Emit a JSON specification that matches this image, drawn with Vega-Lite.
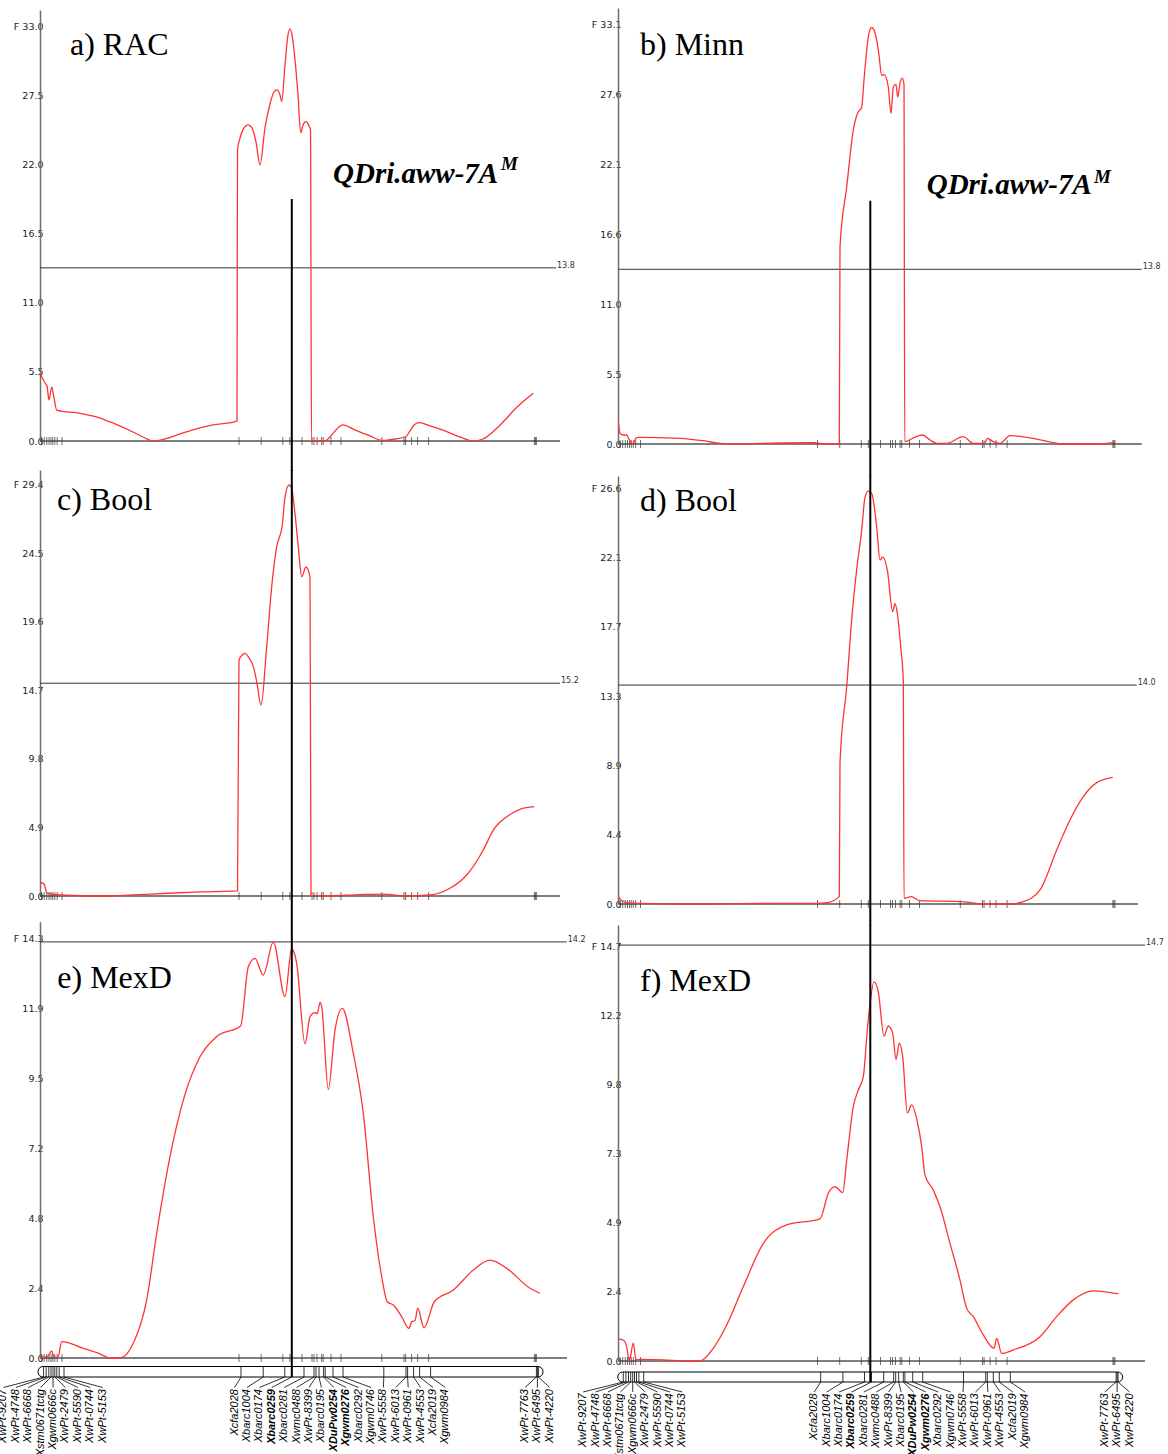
{
  "$schema": "https://vega.github.io/schema/vega-lite/v6.json",
  "width": 1168,
  "height": 1454,
  "autosize": {"type": "none"},
  "padding": 0,
  "background": "white",
  "config": {
    "view": {"stroke": null},
    "axis": {"ticks": false, "grid": false, "domainColor": "#6e6e6e", "domainWidth": 1.5, "labelFont": "DejaVu Sans", "labelFontSize": 9.5, "labelColor": "#222222", "labelPadding": -3, "labelOverlap": false, "labelFlush": false}
  },
  "datasets": {
    "panels": [
      {"panel": "a", "title": "a) RAC", "thr": 13.8},
      {"panel": "b", "title": "b) Minn", "thr": 13.8},
      {"panel": "c", "title": "c) Bool", "thr": 15.2},
      {"panel": "d", "title": "d) Bool", "thr": 14.0},
      {"panel": "e", "title": "e) MexD", "thr": 14.2},
      {"panel": "f", "title": "f) MexD", "thr": 14.7}
    ],
    "qtl": [{"name": "QDri.aww-7A", "sup": "M", "cM": 125.9}],
    "chromosome": [{"chromosome": "7A", "start": -2, "end": 250.5}],
    "markers": [
      {"marker": "XwPt-9207", "cM": 0.8, "block": 1},
      {"marker": "XwPt-4748", "cM": 2.1, "block": 1},
      {"marker": "XwPt-6668", "cM": 3.4, "block": 1},
      {"marker": "Xstm0671tctg", "cM": 4.5, "block": 1},
      {"marker": "Xgwm0666c", "cM": 5.5, "block": 1},
      {"marker": "XwPt-2479", "cM": 6.4, "block": 1},
      {"marker": "XwPt-5590", "cM": 7.4, "block": 1},
      {"marker": "XwPt-0744", "cM": 8.6, "block": 1},
      {"marker": "XwPt-5153", "cM": 11.0, "block": 1},
      {"marker": "Xcfa2028", "cM": 99.5, "block": 2},
      {"marker": "Xbarc1004", "cM": 110.6, "block": 2},
      {"marker": "Xbarc0174", "cM": 121.4, "block": 2},
      {"marker": "Xbarc0259", "cM": 124.9, "block": 2},
      {"marker": "Xbarc0281", "cM": 131.0, "block": 2},
      {"marker": "Xwmc0488", "cM": 136.0, "block": 2},
      {"marker": "XwPt-8399", "cM": 137.0, "block": 2},
      {"marker": "Xbarc0195", "cM": 138.5, "block": 2},
      {"marker": "XDuPw0254", "cM": 140.8, "block": 2},
      {"marker": "Xgwm0276", "cM": 141.6, "block": 2},
      {"marker": "Xbarc0292", "cM": 145.5, "block": 2},
      {"marker": "Xgwm0746", "cM": 150.5, "block": 2},
      {"marker": "XwPt-5558", "cM": 170.9, "block": 2},
      {"marker": "XwPt-6013", "cM": 182.0, "block": 2},
      {"marker": "XwPt-0961", "cM": 182.8, "block": 2},
      {"marker": "XwPt-4553", "cM": 185.8, "block": 2},
      {"marker": "Xcfa2019", "cM": 188.8, "block": 2},
      {"marker": "Xgwm0984", "cM": 194.3, "block": 2},
      {"marker": "XwPt-7763", "cM": 247.2, "block": 3},
      {"marker": "XwPt-6495", "cM": 247.7, "block": 3},
      {"marker": "XwPt-4220", "cM": 248.2, "block": 3}
    ],
    "curves": [
      {"panel":"a","cM":0,"F":5.4},{"panel":"a","cM":1.5,"F":4.94},{"panel":"a","cM":2.5,"F":4.62},{"panel":"a","cM":3.5,"F":4.38},{"panel":"a","cM":4.5,"F":3.27},{"panel":"a","cM":5.85,"F":4.3},{"panel":"a","cM":6.75,"F":3.67},{"panel":"a","cM":8.35,"F":2.47},{"panel":"a","cM":20,"F":2.2},{"panel":"a","cM":30,"F":1.83},{"panel":"a","cM":37.5,"F":1.36},{"panel":"a","cM":46.5,"F":0.72},{"panel":"a","cM":52.5,"F":0.24},{"panel":"a","cM":56.5,"F":0},{"panel":"a","cM":62.5,"F":0.16},{"panel":"a","cM":71.5,"F":0.64},{"panel":"a","cM":80,"F":1.04},{"panel":"a","cM":86.5,"F":1.28},{"panel":"a","cM":98.5,"F":1.59},{"panel":"a","cM":98.75,"F":23.2},{"panel":"a","cM":100,"F":24.15},{"panel":"a","cM":102,"F":24.95},{"panel":"a","cM":104,"F":25.19},{"panel":"a","cM":106,"F":24.95},{"panel":"a","cM":108,"F":23.83},{"panel":"a","cM":110,"F":22.0},{"panel":"a","cM":112.5,"F":24.95},{"panel":"a","cM":115,"F":26.86},{"panel":"a","cM":117,"F":27.82},{"panel":"a","cM":118.5,"F":27.98},{"panel":"a","cM":120,"F":27.58},{"panel":"a","cM":120.85,"F":27.05},{"panel":"a","cM":122.5,"F":29.97},{"panel":"a","cM":124,"F":32.36},{"panel":"a","cM":125,"F":32.84},{"panel":"a","cM":126,"F":32.36},{"panel":"a","cM":127.5,"F":30.37},{"panel":"a","cM":129,"F":27.58},{"panel":"a","cM":130.35,"F":24.58},{"panel":"a","cM":131.5,"F":25.19},{"panel":"a","cM":133,"F":25.45},{"panel":"a","cM":134.5,"F":25.11},{"panel":"a","cM":135.25,"F":24.79},{"panel":"a","cM":135.75,"F":0},{"panel":"a","cM":142.5,"F":0},{"panel":"a","cM":145,"F":0.32},{"panel":"a","cM":148,"F":0.88},{"panel":"a","cM":151.35,"F":1.28},{"panel":"a","cM":157.5,"F":0.88},{"panel":"a","cM":165,"F":0.4},{"panel":"a","cM":171.35,"F":0.04},{"panel":"a","cM":177.5,"F":0.16},{"panel":"a","cM":182.85,"F":0.34},{"panel":"a","cM":185,"F":0.8},{"panel":"a","cM":187,"F":1.28},{"panel":"a","cM":189.65,"F":1.46},{"panel":"a","cM":195,"F":1.2},{"panel":"a","cM":202.5,"F":0.8},{"panel":"a","cM":210,"F":0.32},{"panel":"a","cM":216.5,"F":0},{"panel":"a","cM":221.5,"F":0.16},{"panel":"a","cM":227.5,"F":0.88},{"panel":"a","cM":232.5,"F":1.67},{"panel":"a","cM":237.5,"F":2.55},{"panel":"a","cM":242.5,"F":3.27},{"panel":"a","cM":246.65,"F":3.8},
      {"panel":"b","cM":0,"F":1.66},{"panel":"b","cM":0.75,"F":0.85},{"panel":"b","cM":2.4,"F":0.71},{"panel":"b","cM":4.1,"F":0.71},{"panel":"b","cM":5.4,"F":0.32},{"panel":"b","cM":7.4,"F":0},{"panel":"b","cM":8.75,"F":0.47},{"panel":"b","cM":9.9,"F":0.53},{"panel":"b","cM":30.75,"F":0.45},{"panel":"b","cM":43.25,"F":0.24},{"panel":"b","cM":50.75,"F":0.05},{"panel":"b","cM":59.1,"F":0},{"panel":"b","cM":80.75,"F":0.08},{"panel":"b","cM":97.4,"F":0.1},{"panel":"b","cM":104.1,"F":0},{"panel":"b","cM":110.4,"F":0},{"panel":"b","cM":110.75,"F":15.58},{"panel":"b","cM":114.1,"F":20.3},{"panel":"b","cM":117.4,"F":24.8},{"panel":"b","cM":119.75,"F":26.2},{"panel":"b","cM":121.6,"F":26.6},{"panel":"b","cM":122.75,"F":28.75},{"panel":"b","cM":124.1,"F":31.1},{"panel":"b","cM":125.25,"F":32.46},{"panel":"b","cM":126.6,"F":32.9},{"panel":"b","cM":127.75,"F":32.7},{"panel":"b","cM":129.1,"F":31.9},{"panel":"b","cM":130.25,"F":30.7},{"panel":"b","cM":131.6,"F":29.1},{"panel":"b","cM":132.75,"F":29.2},{"panel":"b","cM":134.9,"F":28.2},{"panel":"b","cM":136.25,"F":26.1},{"panel":"b","cM":137.4,"F":28.2},{"panel":"b","cM":138.75,"F":28.4},{"panel":"b","cM":139.6,"F":27.4},{"panel":"b","cM":140.75,"F":28.5},{"panel":"b","cM":141.9,"F":28.9},{"panel":"b","cM":142.75,"F":28.4},{"panel":"b","cM":143.1,"F":0.18},{"panel":"b","cM":148.25,"F":0.55},{"panel":"b","cM":152.1,"F":0.71},{"panel":"b","cM":155.75,"F":0.32},{"panel":"b","cM":159.1,"F":0.05},{"panel":"b","cM":164.1,"F":0.05},{"panel":"b","cM":172.4,"F":0.58},{"panel":"b","cM":177.4,"F":0.05},{"panel":"b","cM":183.25,"F":0.05},{"panel":"b","cM":184.4,"F":0.45},{"panel":"b","cM":187.4,"F":0.18},{"panel":"b","cM":190.75,"F":0.05},{"panel":"b","cM":195.75,"F":0.66},{"panel":"b","cM":207.4,"F":0.45},{"panel":"b","cM":222.4,"F":0},{"panel":"b","cM":239.1,"F":0},{"panel":"b","cM":248.25,"F":0.13},
      {"panel":"c","cM":0,"F":1.0},{"panel":"c","cM":2,"F":0.86},{"panel":"c","cM":3.5,"F":0.21},{"panel":"c","cM":10,"F":0.07},{"panel":"c","cM":30,"F":0},{"panel":"c","cM":55,"F":0.14},{"panel":"c","cM":80,"F":0.29},{"panel":"c","cM":98.75,"F":0.36},{"panel":"c","cM":99.5,"F":16.86},{"panel":"c","cM":101,"F":17.2},{"panel":"c","cM":102.5,"F":17.33},{"panel":"c","cM":104.5,"F":17.0},{"panel":"c","cM":106.65,"F":16.4},{"panel":"c","cM":108.5,"F":15.2},{"panel":"c","cM":110.5,"F":13.64},{"panel":"c","cM":113.35,"F":17.8},{"panel":"c","cM":115.85,"F":22.1},{"panel":"c","cM":118.35,"F":24.95},{"panel":"c","cM":121.15,"F":26.5},{"panel":"c","cM":122.5,"F":28.5},{"panel":"c","cM":124.5,"F":29.36},{"panel":"c","cM":125.85,"F":29.1},{"panel":"c","cM":127.5,"F":27.3},{"panel":"c","cM":129.15,"F":24.95},{"panel":"c","cM":130.85,"F":22.8},{"panel":"c","cM":133,"F":23.5},{"panel":"c","cM":135,"F":22.8},{"panel":"c","cM":135.5,"F":0.07},{"panel":"c","cM":143.35,"F":0},{"panel":"c","cM":160,"F":0.1},{"panel":"c","cM":171.65,"F":0.14},{"panel":"c","cM":183.35,"F":0},{"panel":"c","cM":195,"F":0.07},{"panel":"c","cM":205,"F":0.55},{"panel":"c","cM":213.35,"F":1.5},{"panel":"c","cM":221.65,"F":3.29},{"panel":"c","cM":226.65,"F":4.71},{"panel":"c","cM":233.35,"F":5.66},{"panel":"c","cM":240,"F":6.19},{"panel":"c","cM":247.15,"F":6.38},
      {"panel":"d","cM":0,"F":0.45},{"panel":"d","cM":1.75,"F":0.19},{"panel":"d","cM":5.75,"F":0.06},{"panel":"d","cM":40,"F":0},{"panel":"d","cM":80.75,"F":0.04},{"panel":"d","cM":99.1,"F":0.04},{"panel":"d","cM":104.1,"F":0.08},{"panel":"d","cM":110.4,"F":0.47},{"panel":"d","cM":110.75,"F":9.0},{"panel":"d","cM":114.1,"F":13.9},{"panel":"d","cM":116.6,"F":18.2},{"panel":"d","cM":119.1,"F":21.4},{"panel":"d","cM":121.6,"F":23.9},{"panel":"d","cM":123.25,"F":26.0},{"panel":"d","cM":124.9,"F":26.4},{"panel":"d","cM":126.6,"F":26.26},{"panel":"d","cM":129.1,"F":24.1},{"panel":"d","cM":130.75,"F":22.0},{"panel":"d","cM":132.1,"F":22.2},{"panel":"d","cM":134.4,"F":21.36},{"panel":"d","cM":137.1,"F":18.7},{"panel":"d","cM":138.25,"F":19.2},{"panel":"d","cM":139.4,"F":18.6},{"panel":"d","cM":141.1,"F":16.45},{"panel":"d","cM":142.4,"F":14.3},{"panel":"d","cM":142.75,"F":0.36},{"panel":"d","cM":146.25,"F":0.47},{"panel":"d","cM":150.75,"F":0.21},{"panel":"d","cM":171.6,"F":0.15},{"panel":"d","cM":183.25,"F":0},{"panel":"d","cM":195.75,"F":0},{"panel":"d","cM":202.4,"F":0.15},{"panel":"d","cM":210.75,"F":0.9},{"panel":"d","cM":219.1,"F":3.45},{"panel":"d","cM":225.75,"F":5.37},{"panel":"d","cM":232.4,"F":6.86},{"panel":"d","cM":239.1,"F":7.76},{"panel":"d","cM":247.1,"F":8.1},
      {"panel":"e","cM":0,"F":0},{"panel":"e","cM":4,"F":0.07},{"panel":"e","cM":5.85,"F":0.24},{"panel":"e","cM":7,"F":0.03},{"panel":"e","cM":9,"F":0.03},{"panel":"e","cM":10.85,"F":0.56},{"panel":"e","cM":21.65,"F":0.33},{"panel":"e","cM":30,"F":0.14},{"panel":"e","cM":35,"F":0},{"panel":"e","cM":40,"F":0},{"panel":"e","cM":46.65,"F":0.5},{"panel":"e","cM":53.35,"F":1.98},{"panel":"e","cM":58.35,"F":4.26},{"panel":"e","cM":65,"F":6.87},{"panel":"e","cM":71.65,"F":8.8},{"panel":"e","cM":80,"F":10.28},{"panel":"e","cM":88.35,"F":10.97},{"panel":"e","cM":100.35,"F":11.34},{"panel":"e","cM":104.15,"F":13.35},{"panel":"e","cM":107.5,"F":13.64},{"panel":"e","cM":111.65,"F":13.07},{"panel":"e","cM":116.65,"F":14.19},{"panel":"e","cM":122.5,"F":12.33},{"panel":"e","cM":125.85,"F":13.98},{"panel":"e","cM":126.15,"F":13.96},{"panel":"e","cM":128.35,"F":13.47},{"panel":"e","cM":132.5,"F":10.72},{"panel":"e","cM":135,"F":11.65},{"panel":"e","cM":137.5,"F":11.79},{"panel":"e","cM":138.65,"F":11.75},{"panel":"e","cM":140,"F":12.14},{"panel":"e","cM":140.85,"F":11.99},{"panel":"e","cM":144.15,"F":9.17},{"panel":"e","cM":147.5,"F":11.19},{"panel":"e","cM":151.15,"F":11.93},{"panel":"e","cM":156.65,"F":10.4},{"panel":"e","cM":161.65,"F":8.35},{"panel":"e","cM":166.65,"F":4.82},{"panel":"e","cM":170.85,"F":2.77},{"panel":"e","cM":173.65,"F":1.92},{"panel":"e","cM":176.65,"F":1.81},{"panel":"e","cM":180.85,"F":1.41},{"panel":"e","cM":184.5,"F":1.01},{"panel":"e","cM":185.85,"F":1.24},{"panel":"e","cM":187.5,"F":1.27},{"panel":"e","cM":188.85,"F":1.7},{"panel":"e","cM":192,"F":1.03},{"panel":"e","cM":197.15,"F":1.92},{"panel":"e","cM":206.65,"F":2.32},{"panel":"e","cM":216.65,"F":3.0},{"panel":"e","cM":225,"F":3.34},{"panel":"e","cM":233.35,"F":3.06},{"panel":"e","cM":245,"F":2.38},{"panel":"e","cM":250,"F":2.21},
      {"panel":"f","cM":0,"F":0.77},{"panel":"f","cM":2.4,"F":0.74},{"panel":"f","cM":4.1,"F":0.5},{"panel":"f","cM":5.4,"F":0},{"panel":"f","cM":7.4,"F":0.63},{"panel":"f","cM":8.75,"F":0.04},{"panel":"f","cM":10.75,"F":0.06},{"panel":"f","cM":22.4,"F":0.04},{"panel":"f","cM":34.1,"F":0},{"panel":"f","cM":40.75,"F":0},{"panel":"f","cM":47.4,"F":0.45},{"panel":"f","cM":54.1,"F":1.27},{"panel":"f","cM":62.4,"F":2.63},{"panel":"f","cM":72.4,"F":4.16},{"panel":"f","cM":84.1,"F":4.81},{"panel":"f","cM":100.75,"F":5.02},{"panel":"f","cM":104.9,"F":5.93},{"panel":"f","cM":108.25,"F":6.16},{"panel":"f","cM":112.1,"F":5.95},{"panel":"f","cM":114.1,"F":7.1},{"panel":"f","cM":117.4,"F":8.99},{"panel":"f","cM":119.9,"F":9.58},{"panel":"f","cM":122.4,"F":10.05},{"panel":"f","cM":124.4,"F":11.7},{"panel":"f","cM":125.4,"F":12.4},{"panel":"f","cM":127.75,"F":13.4},{"panel":"f","cM":129.9,"F":13.05},{"panel":"f","cM":132.75,"F":11.48},{"panel":"f","cM":134.9,"F":11.84},{"panel":"f","cM":137.1,"F":11.58},{"panel":"f","cM":138.75,"F":10.66},{"panel":"f","cM":140.4,"F":11.23},{"panel":"f","cM":142.1,"F":10.75},{"panel":"f","cM":144.4,"F":8.77},{"panel":"f","cM":146.6,"F":9.05},{"panel":"f","cM":149.4,"F":8.46},{"panel":"f","cM":151.6,"F":7.57},{"panel":"f","cM":153.25,"F":6.57},{"panel":"f","cM":157.4,"F":6.04},{"panel":"f","cM":160.75,"F":5.45},{"panel":"f","cM":165.75,"F":4.16},{"panel":"f","cM":170.75,"F":2.86},{"panel":"f","cM":174.1,"F":1.86},{"panel":"f","cM":177.4,"F":1.57},{"panel":"f","cM":182.4,"F":0.92},{"panel":"f","cM":187.75,"F":0.45},{"panel":"f","cM":189.1,"F":0.8},{"panel":"f","cM":191.6,"F":0.27},{"panel":"f","cM":197.4,"F":0.39},{"panel":"f","cM":210.75,"F":0.86},{"panel":"f","cM":219.1,"F":1.57},{"panel":"f","cM":227.4,"F":2.16},{"panel":"f","cM":237.4,"F":2.48},{"panel":"f","cM":249.9,"F":2.37}
    ]
  },
  "resolve": {"scale": {"x": "independent", "y": "independent"}, "axis": {"x": "independent", "y": "independent"}},
  "layer": [
    {
      "layer": [
        {"data": {"name": "chromosome"}, "mark": {"type": "rect", "fill": "white", "stroke": "black", "strokeWidth": 1, "cornerRadius": 5},
         "encoding": {"x": {"field": "start", "type": "quantitative", "scale": {"domain": [0, 262], "range": [42, 566], "nice": false, "zero": false}, "axis": null}, "x2": {"field": "end"},
                      "y": {"datum": 0, "type": "quantitative", "scale": {"domain": [0, 1], "range": [1366.5, 1377], "nice": false, "zero": false}, "axis": null}, "y2": {"datum": 1}}},
        {"data": {"name": "markers"},
         "transform": [
           {"joinaggregate": [{"op": "mean", "field": "cM", "as": "mu"}, {"op": "count", "as": "n"}], "groupby": ["block"]},
           {"window": [{"op": "row_number", "as": "r"}], "groupby": ["block"], "sort": [{"field": "cM"}]},
           {"calculate": "datum.mu + (datum.r - (datum.n + 1) / 2) * 6.2", "as": "labelPos"}
         ],
         "layer": [
           {"mark": {"type": "rule", "color": "black", "strokeWidth": 0.8},
            "encoding": {"x": {"field": "cM", "type": "quantitative", "scale": {"domain": [0, 262], "range": [42, 566], "nice": false, "zero": false}, "axis": null},
                         "y": {"datum": 0, "type": "quantitative", "scale": {"domain": [0, 1], "range": [1366.5, 1377], "nice": false, "zero": false}, "axis": null}, "y2": {"datum": 1}}},
           {"mark": {"type": "rule", "color": "black", "strokeWidth": 0.8},
            "encoding": {"x": {"field": "cM", "type": "quantitative", "scale": {"domain": [0, 262], "range": [42, 566], "nice": false, "zero": false}, "axis": null}, "x2": {"field": "labelPos"},
                         "y": {"datum": 1, "type": "quantitative", "scale": {"domain": [0, 1], "range": [1366.5, 1377], "nice": false, "zero": false}, "axis": null}, "y2": {"datum": 2}}},
           {"transform": [{"filter": {"not": {"field": "marker", "oneOf": ["Xbarc0259", "XDuPw0254", "Xgwm0276"]}}}],
            "mark": {"type": "text", "angle": 270, "align": "right", "baseline": "middle", "font": "Liberation Sans", "fontStyle": "italic", "fontSize": 11, "color": "black"},
            "encoding": {"x": {"field": "labelPos", "type": "quantitative", "scale": {"domain": [0, 262], "range": [42, 566], "nice": false, "zero": false}, "axis": null},
                         "y": {"datum": 2.15, "type": "quantitative", "scale": {"domain": [0, 1], "range": [1366.5, 1377], "nice": false, "zero": false}, "axis": null}, "text": {"field": "marker"}}},
           {"transform": [{"filter": {"field": "marker", "oneOf": ["Xbarc0259", "XDuPw0254", "Xgwm0276"]}}],
            "mark": {"type": "text", "angle": 270, "align": "right", "baseline": "middle", "font": "Liberation Sans", "fontStyle": "italic", "fontWeight": "bold", "fontSize": 11, "color": "black"},
            "encoding": {"x": {"field": "labelPos", "type": "quantitative", "scale": {"domain": [0, 262], "range": [42, 566], "nice": false, "zero": false}, "axis": null},
                         "y": {"datum": 2.15, "type": "quantitative", "scale": {"domain": [0, 1], "range": [1366.5, 1377], "nice": false, "zero": false}, "axis": null}, "text": {"field": "marker"}}}
         ]}
      ]
    },
    {
      "layer": [
        {"data": {"name": "chromosome"}, "mark": {"type": "rect", "fill": "white", "stroke": "black", "strokeWidth": 1, "cornerRadius": 5},
         "encoding": {"x": {"field": "start", "type": "quantitative", "scale": {"domain": [0, 262], "range": [621.7, 1145.7], "nice": false, "zero": false}, "axis": null}, "x2": {"field": "end"},
                      "y": {"datum": 0, "type": "quantitative", "scale": {"domain": [0, 1], "range": [1372, 1382], "nice": false, "zero": false}, "axis": null}, "y2": {"datum": 1}}},
        {"data": {"name": "markers"},
         "transform": [
           {"joinaggregate": [{"op": "mean", "field": "cM", "as": "mu"}, {"op": "count", "as": "n"}], "groupby": ["block"]},
           {"window": [{"op": "row_number", "as": "r"}], "groupby": ["block"], "sort": [{"field": "cM"}]},
           {"calculate": "datum.mu + (datum.r - (datum.n + 1) / 2) * 6.2", "as": "labelPos"}
         ],
         "layer": [
           {"mark": {"type": "rule", "color": "black", "strokeWidth": 0.8},
            "encoding": {"x": {"field": "cM", "type": "quantitative", "scale": {"domain": [0, 262], "range": [621.7, 1145.7], "nice": false, "zero": false}, "axis": null},
                         "y": {"datum": 0, "type": "quantitative", "scale": {"domain": [0, 1], "range": [1372, 1382], "nice": false, "zero": false}, "axis": null}, "y2": {"datum": 1}}},
           {"mark": {"type": "rule", "color": "black", "strokeWidth": 0.8},
            "encoding": {"x": {"field": "cM", "type": "quantitative", "scale": {"domain": [0, 262], "range": [621.7, 1145.7], "nice": false, "zero": false}, "axis": null}, "x2": {"field": "labelPos"},
                         "y": {"datum": 1, "type": "quantitative", "scale": {"domain": [0, 1], "range": [1372, 1382], "nice": false, "zero": false}, "axis": null}, "y2": {"datum": 2}}},
           {"transform": [{"filter": {"not": {"field": "marker", "oneOf": ["Xbarc0259", "XDuPw0254", "Xgwm0276"]}}}],
            "mark": {"type": "text", "angle": 270, "align": "right", "baseline": "middle", "font": "Liberation Sans", "fontStyle": "italic", "fontSize": 11, "color": "black"},
            "encoding": {"x": {"field": "labelPos", "type": "quantitative", "scale": {"domain": [0, 262], "range": [621.7, 1145.7], "nice": false, "zero": false}, "axis": null},
                         "y": {"datum": 2.15, "type": "quantitative", "scale": {"domain": [0, 1], "range": [1372, 1382], "nice": false, "zero": false}, "axis": null}, "text": {"field": "marker"}}},
           {"transform": [{"filter": {"field": "marker", "oneOf": ["Xbarc0259", "XDuPw0254", "Xgwm0276"]}}],
            "mark": {"type": "text", "angle": 270, "align": "right", "baseline": "middle", "font": "Liberation Sans", "fontStyle": "italic", "fontWeight": "bold", "fontSize": 11, "color": "black"},
            "encoding": {"x": {"field": "labelPos", "type": "quantitative", "scale": {"domain": [0, 262], "range": [621.7, 1145.7], "nice": false, "zero": false}, "axis": null},
                         "y": {"datum": 2.15, "type": "quantitative", "scale": {"domain": [0, 1], "range": [1372, 1382], "nice": false, "zero": false}, "axis": null}, "text": {"field": "marker"}}}
         ]}
      ]
    },
    {
      "layer": [
        {"data": {"name": "panels"}, "transform": [{"filter": "datum.panel == 'a'"}],
         "layer": [
           {"mark": {"type": "rule", "color": "#333333", "strokeWidth": 1},
            "encoding": {"x": {"datum": 0, "type": "quantitative", "scale": {"domain": [0, 262], "range": [40, 564], "nice": false, "zero": false}, "axis": null}, "x2": {"datum": 258},
                         "y": {"field": "thr", "type": "quantitative", "scale": {"domain": [0, 34.35], "range": [441, 10], "nice": false, "zero": false}}}},
           {"mark": {"type": "text", "align": "left", "baseline": "middle", "dx": 1, "dy": -2, "font": "DejaVu Sans", "fontSize": 8, "color": "#333333"},
            "encoding": {"x": {"datum": 258, "type": "quantitative", "scale": {"domain": [0, 262], "range": [40, 564], "nice": false, "zero": false}, "axis": null},
                         "y": {"field": "thr", "type": "quantitative", "scale": {"domain": [0, 34.35], "range": [441, 10], "nice": false, "zero": false}},
                         "text": {"field": "thr", "type": "quantitative", "format": ".1f"}}},
           {"mark": {"type": "rule", "color": "#555555", "strokeWidth": 1.5},
            "encoding": {"x": {"datum": 0, "type": "quantitative", "scale": {"domain": [0, 262], "range": [40, 564], "nice": false, "zero": false}, "axis": null}, "x2": {"datum": 260},
                         "y": {"datum": 0, "type": "quantitative", "scale": {"domain": [0, 34.35], "range": [441, 10], "nice": false, "zero": false}}}},
           {"mark": {"type": "text", "align": "left", "baseline": "alphabetic", "font": "Liberation Serif", "fontSize": 32, "color": "black"},
            "encoding": {"x": {"datum": 15, "type": "quantitative", "scale": {"domain": [0, 262], "range": [40, 564], "nice": false, "zero": false}, "axis": null},
                         "y": {"datum": 30.77, "type": "quantitative", "scale": {"domain": [0, 34.35], "range": [441, 10], "nice": false, "zero": false}},
                         "text": {"field": "title"}}}
         ]},
        {"data": {"name": "markers"}, "mark": {"type": "tick", "orient": "vertical", "color": "#333333", "size": 8, "thickness": 1},
         "encoding": {"x": {"field": "cM", "type": "quantitative", "scale": {"domain": [0, 262], "range": [40, 564], "nice": false, "zero": false}, "axis": null},
                      "y": {"datum": 0, "type": "quantitative", "scale": {"domain": [0, 34.35], "range": [441, 10], "nice": false, "zero": false}}}},
        {"data": {"name": "curves"}, "transform": [{"filter": "datum.panel == 'a'"}],
         "mark": {"type": "line", "color": "#ff3333", "strokeWidth": 1.3, "interpolate": "monotone"},
         "encoding": {"x": {"field": "cM", "type": "quantitative", "scale": {"domain": [0, 262], "range": [40, 564], "nice": false, "zero": false}, "axis": null},
                      "y": {"field": "F", "type": "quantitative", "scale": {"domain": [0, 34.35], "range": [441, 10], "nice": false, "zero": false},
                            "axis": {"orient": "left", "offset": -40, "title": null, "values": [0, 5.5, 11, 16.5, 22, 27.5, 33], "format": ".1f", "labelExpr": "datum.value > 32 ? 'F  ' + datum.label : datum.label"}}}},
        {"data": {"name": "qtl"},
         "layer": [
           {"mark": {"type": "rule", "color": "black", "strokeWidth": 2},
            "encoding": {"x": {"field": "cM", "type": "quantitative", "scale": {"domain": [0, 262], "range": [40, 564], "nice": false, "zero": false}, "axis": null},
                         "y": {"datum": 19.29, "type": "quantitative", "scale": {"domain": [0, 34.35], "range": [441, 10], "nice": false, "zero": false}}, "y2": {"datum": -2.4}}},
           {"mark": {"type": "text", "align": "left", "baseline": "alphabetic", "font": "Liberation Serif", "fontSize": 29, "fontStyle": "italic", "fontWeight": "bold", "color": "black"},
            "encoding": {"x": {"datum": 146.5, "type": "quantitative", "scale": {"domain": [0, 262], "range": [40, 564], "nice": false, "zero": false}, "axis": null},
                         "y": {"datum": 20.57, "type": "quantitative", "scale": {"domain": [0, 34.35], "range": [441, 10], "nice": false, "zero": false}}, "text": {"field": "name"}}},
           {"mark": {"type": "text", "align": "left", "baseline": "alphabetic", "font": "Liberation Serif", "fontSize": 19, "fontStyle": "italic", "fontWeight": "bold", "color": "black"},
            "encoding": {"x": {"datum": 230.5, "type": "quantitative", "scale": {"domain": [0, 262], "range": [40, 564], "nice": false, "zero": false}, "axis": null},
                         "y": {"datum": 21.6, "type": "quantitative", "scale": {"domain": [0, 34.35], "range": [441, 10], "nice": false, "zero": false}}, "text": {"field": "sup"}}}
         ]}
      ]
    },
    {
      "layer": [
        {"data": {"name": "panels"}, "transform": [{"filter": "datum.panel == 'b'"}],
         "layer": [
           {"mark": {"type": "rule", "color": "#333333", "strokeWidth": 1},
            "encoding": {"x": {"datum": 0, "type": "quantitative", "scale": {"domain": [0, 262], "range": [618.5, 1142.5], "nice": false, "zero": false}, "axis": null}, "x2": {"datum": 261.6},
                         "y": {"field": "thr", "type": "quantitative", "scale": {"domain": [0, 34.44], "range": [444, 8], "nice": false, "zero": false}}}},
           {"mark": {"type": "text", "align": "left", "baseline": "middle", "dx": 1, "dy": -2, "font": "DejaVu Sans", "fontSize": 8, "color": "#333333"},
            "encoding": {"x": {"datum": 261.6, "type": "quantitative", "scale": {"domain": [0, 262], "range": [618.5, 1142.5], "nice": false, "zero": false}, "axis": null},
                         "y": {"field": "thr", "type": "quantitative", "scale": {"domain": [0, 34.44], "range": [444, 8], "nice": false, "zero": false}},
                         "text": {"field": "thr", "type": "quantitative", "format": ".1f"}}},
           {"mark": {"type": "rule", "color": "#555555", "strokeWidth": 1.5},
            "encoding": {"x": {"datum": 0, "type": "quantitative", "scale": {"domain": [0, 262], "range": [618.5, 1142.5], "nice": false, "zero": false}, "axis": null}, "x2": {"datum": 261.6},
                         "y": {"datum": 0, "type": "quantitative", "scale": {"domain": [0, 34.44], "range": [444, 8], "nice": false, "zero": false}}}},
           {"mark": {"type": "text", "align": "left", "baseline": "alphabetic", "font": "Liberation Serif", "fontSize": 32, "color": "black"},
            "encoding": {"x": {"datum": 10.75, "type": "quantitative", "scale": {"domain": [0, 262], "range": [618.5, 1142.5], "nice": false, "zero": false}, "axis": null},
                         "y": {"datum": 30.73, "type": "quantitative", "scale": {"domain": [0, 34.44], "range": [444, 8], "nice": false, "zero": false}},
                         "text": {"field": "title"}}}
         ]},
        {"data": {"name": "markers"}, "mark": {"type": "tick", "orient": "vertical", "color": "#333333", "size": 8, "thickness": 1},
         "encoding": {"x": {"field": "cM", "type": "quantitative", "scale": {"domain": [0, 262], "range": [618.5, 1142.5], "nice": false, "zero": false}, "axis": null},
                      "y": {"datum": 0, "type": "quantitative", "scale": {"domain": [0, 34.44], "range": [444, 8], "nice": false, "zero": false}}}},
        {"data": {"name": "curves"}, "transform": [{"filter": "datum.panel == 'b'"}],
         "mark": {"type": "line", "color": "#ff3333", "strokeWidth": 1.3, "interpolate": "monotone"},
         "encoding": {"x": {"field": "cM", "type": "quantitative", "scale": {"domain": [0, 262], "range": [618.5, 1142.5], "nice": false, "zero": false}, "axis": null},
                      "y": {"field": "F", "type": "quantitative", "scale": {"domain": [0, 34.44], "range": [444, 8], "nice": false, "zero": false},
                            "axis": {"orient": "left", "offset": -618, "title": null, "values": [0, 5.52, 11.03, 16.56, 22.07, 27.58, 33.1], "format": ".1f", "labelExpr": "datum.value > 33 ? 'F  ' + datum.label : datum.label"}}}},
        {"data": {"name": "qtl"},
         "layer": [
           {"mark": {"type": "rule", "color": "black", "strokeWidth": 2},
            "encoding": {"x": {"field": "cM", "type": "quantitative", "scale": {"domain": [0, 262], "range": [618.5, 1142.5], "nice": false, "zero": false}, "axis": null},
                         "y": {"datum": 19.22, "type": "quantitative", "scale": {"domain": [0, 34.44], "range": [444, 8], "nice": false, "zero": false}}, "y2": {"datum": -2.57}}},
           {"mark": {"type": "text", "align": "left", "baseline": "alphabetic", "font": "Liberation Serif", "fontSize": 29, "fontStyle": "italic", "fontWeight": "bold", "color": "black"},
            "encoding": {"x": {"datum": 154.1, "type": "quantitative", "scale": {"domain": [0, 262], "range": [618.5, 1142.5], "nice": false, "zero": false}, "axis": null},
                         "y": {"datum": 19.75, "type": "quantitative", "scale": {"domain": [0, 34.44], "range": [444, 8], "nice": false, "zero": false}}, "text": {"field": "name"}}},
           {"mark": {"type": "text", "align": "left", "baseline": "alphabetic", "font": "Liberation Serif", "fontSize": 19, "fontStyle": "italic", "fontWeight": "bold", "color": "black"},
            "encoding": {"x": {"datum": 237.75, "type": "quantitative", "scale": {"domain": [0, 262], "range": [618.5, 1142.5], "nice": false, "zero": false}, "axis": null},
                         "y": {"datum": 20.6, "type": "quantitative", "scale": {"domain": [0, 34.44], "range": [444, 8], "nice": false, "zero": false}}, "text": {"field": "sup"}}}
         ]}
      ]
    },
    {
      "layer": [
        {"data": {"name": "panels"}, "transform": [{"filter": "datum.panel == 'c'"}],
         "layer": [
           {"mark": {"type": "rule", "color": "#333333", "strokeWidth": 1},
            "encoding": {"x": {"datum": 0, "type": "quantitative", "scale": {"domain": [0, 262], "range": [40, 564], "nice": false, "zero": false}, "axis": null}, "x2": {"datum": 260},
                         "y": {"field": "thr", "type": "quantitative", "scale": {"domain": [0, 30.43], "range": [896, 470], "nice": false, "zero": false}}}},
           {"mark": {"type": "text", "align": "left", "baseline": "middle", "dx": 1, "dy": -2, "font": "DejaVu Sans", "fontSize": 8, "color": "#333333"},
            "encoding": {"x": {"datum": 260, "type": "quantitative", "scale": {"domain": [0, 262], "range": [40, 564], "nice": false, "zero": false}, "axis": null},
                         "y": {"field": "thr", "type": "quantitative", "scale": {"domain": [0, 30.43], "range": [896, 470], "nice": false, "zero": false}},
                         "text": {"field": "thr", "type": "quantitative", "format": ".1f"}}},
           {"mark": {"type": "rule", "color": "#555555", "strokeWidth": 1.5},
            "encoding": {"x": {"datum": 0, "type": "quantitative", "scale": {"domain": [0, 262], "range": [40, 564], "nice": false, "zero": false}, "axis": null}, "x2": {"datum": 260},
                         "y": {"datum": 0, "type": "quantitative", "scale": {"domain": [0, 30.43], "range": [896, 470], "nice": false, "zero": false}}}},
           {"mark": {"type": "text", "align": "left", "baseline": "alphabetic", "font": "Liberation Serif", "fontSize": 32, "color": "black"},
            "encoding": {"x": {"datum": 8.5, "type": "quantitative", "scale": {"domain": [0, 262], "range": [40, 564], "nice": false, "zero": false}, "axis": null},
                         "y": {"datum": 27.57, "type": "quantitative", "scale": {"domain": [0, 30.43], "range": [896, 470], "nice": false, "zero": false}},
                         "text": {"field": "title"}}}
         ]},
        {"data": {"name": "markers"}, "mark": {"type": "tick", "orient": "vertical", "color": "#333333", "size": 8, "thickness": 1},
         "encoding": {"x": {"field": "cM", "type": "quantitative", "scale": {"domain": [0, 262], "range": [40, 564], "nice": false, "zero": false}, "axis": null},
                      "y": {"datum": 0, "type": "quantitative", "scale": {"domain": [0, 30.43], "range": [896, 470], "nice": false, "zero": false}}}},
        {"data": {"name": "curves"}, "transform": [{"filter": "datum.panel == 'c'"}],
         "mark": {"type": "line", "color": "#ff3333", "strokeWidth": 1.3, "interpolate": "monotone"},
         "encoding": {"x": {"field": "cM", "type": "quantitative", "scale": {"domain": [0, 262], "range": [40, 564], "nice": false, "zero": false}, "axis": null},
                      "y": {"field": "F", "type": "quantitative", "scale": {"domain": [0, 30.43], "range": [896, 470], "nice": false, "zero": false},
                            "axis": {"orient": "left", "offset": -40, "title": null, "values": [0, 4.9, 9.8, 14.7, 19.6, 24.5, 29.4], "format": ".1f", "labelExpr": "datum.value > 29 ? 'F  ' + datum.label : datum.label"}}}},
        {"data": {"name": "qtl"}, "mark": {"type": "rule", "color": "black", "strokeWidth": 2},
         "encoding": {"x": {"field": "cM", "type": "quantitative", "scale": {"domain": [0, 262], "range": [40, 564], "nice": false, "zero": false}, "axis": null},
                      "y": {"datum": 30.43, "type": "quantitative", "scale": {"domain": [0, 30.43], "range": [896, 470], "nice": false, "zero": false}}, "y2": {"datum": -1.86}}}
      ]
    },
    {
      "layer": [
        {"data": {"name": "panels"}, "transform": [{"filter": "datum.panel == 'd'"}],
         "layer": [
           {"mark": {"type": "rule", "color": "#333333", "strokeWidth": 1},
            "encoding": {"x": {"datum": 0, "type": "quantitative", "scale": {"domain": [0, 262], "range": [618.5, 1142.5], "nice": false, "zero": false}, "axis": null}, "x2": {"datum": 259.1},
                         "y": {"field": "thr", "type": "quantitative", "scale": {"domain": [0, 27.37], "range": [904, 476], "nice": false, "zero": false}}}},
           {"mark": {"type": "text", "align": "left", "baseline": "middle", "dx": 1, "dy": -2, "font": "DejaVu Sans", "fontSize": 8, "color": "#333333"},
            "encoding": {"x": {"datum": 259.1, "type": "quantitative", "scale": {"domain": [0, 262], "range": [618.5, 1142.5], "nice": false, "zero": false}, "axis": null},
                         "y": {"field": "thr", "type": "quantitative", "scale": {"domain": [0, 27.37], "range": [904, 476], "nice": false, "zero": false}},
                         "text": {"field": "thr", "type": "quantitative", "format": ".1f"}}},
           {"mark": {"type": "rule", "color": "#555555", "strokeWidth": 1.5},
            "encoding": {"x": {"datum": 0, "type": "quantitative", "scale": {"domain": [0, 262], "range": [618.5, 1142.5], "nice": false, "zero": false}, "axis": null}, "x2": {"datum": 259.75},
                         "y": {"datum": 0, "type": "quantitative", "scale": {"domain": [0, 27.37], "range": [904, 476], "nice": false, "zero": false}}}},
           {"mark": {"type": "text", "align": "left", "baseline": "alphabetic", "font": "Liberation Serif", "fontSize": 32, "color": "black"},
            "encoding": {"x": {"datum": 10.75, "type": "quantitative", "scale": {"domain": [0, 262], "range": [618.5, 1142.5], "nice": false, "zero": false}, "axis": null},
                         "y": {"datum": 25.13, "type": "quantitative", "scale": {"domain": [0, 27.37], "range": [904, 476], "nice": false, "zero": false}},
                         "text": {"field": "title"}}}
         ]},
        {"data": {"name": "markers"}, "mark": {"type": "tick", "orient": "vertical", "color": "#333333", "size": 8, "thickness": 1},
         "encoding": {"x": {"field": "cM", "type": "quantitative", "scale": {"domain": [0, 262], "range": [618.5, 1142.5], "nice": false, "zero": false}, "axis": null},
                      "y": {"datum": 0, "type": "quantitative", "scale": {"domain": [0, 27.37], "range": [904, 476], "nice": false, "zero": false}}}},
        {"data": {"name": "curves"}, "transform": [{"filter": "datum.panel == 'd'"}],
         "mark": {"type": "line", "color": "#ff3333", "strokeWidth": 1.3, "interpolate": "monotone"},
         "encoding": {"x": {"field": "cM", "type": "quantitative", "scale": {"domain": [0, 262], "range": [618.5, 1142.5], "nice": false, "zero": false}, "axis": null},
                      "y": {"field": "F", "type": "quantitative", "scale": {"domain": [0, 27.37], "range": [904, 476], "nice": false, "zero": false},
                            "axis": {"orient": "left", "offset": -618, "title": null, "values": [0, 4.43, 8.86, 13.29, 17.72, 22.14, 26.57], "format": ".1f", "labelExpr": "datum.value > 26 ? 'F  ' + datum.label : datum.label"}}}},
        {"data": {"name": "qtl"}, "mark": {"type": "rule", "color": "black", "strokeWidth": 2},
         "encoding": {"x": {"field": "cM", "type": "quantitative", "scale": {"domain": [0, 262], "range": [618.5, 1142.5], "nice": false, "zero": false}, "axis": null},
                      "y": {"datum": 27.37, "type": "quantitative", "scale": {"domain": [0, 27.37], "range": [904, 476], "nice": false, "zero": false}}, "y2": {"datum": -1.37}}}
      ]
    },
    {
      "layer": [
        {"data": {"name": "panels"}, "transform": [{"filter": "datum.panel == 'e'"}],
         "layer": [
           {"mark": {"type": "rule", "color": "#333333", "strokeWidth": 1},
            "encoding": {"x": {"datum": 0, "type": "quantitative", "scale": {"domain": [0, 262], "range": [40, 564], "nice": false, "zero": false}, "axis": null}, "x2": {"datum": 263.35},
                         "y": {"field": "thr", "type": "quantitative", "scale": {"domain": [0, 14.89], "range": [1358, 921.7], "nice": false, "zero": false}}}},
           {"mark": {"type": "text", "align": "left", "baseline": "middle", "dx": 1, "dy": -2, "font": "DejaVu Sans", "fontSize": 8, "color": "#333333"},
            "encoding": {"x": {"datum": 263.35, "type": "quantitative", "scale": {"domain": [0, 262], "range": [40, 564], "nice": false, "zero": false}, "axis": null},
                         "y": {"field": "thr", "type": "quantitative", "scale": {"domain": [0, 14.89], "range": [1358, 921.7], "nice": false, "zero": false}},
                         "text": {"field": "thr", "type": "quantitative", "format": ".1f"}}},
           {"mark": {"type": "rule", "color": "#555555", "strokeWidth": 1.5},
            "encoding": {"x": {"datum": 0, "type": "quantitative", "scale": {"domain": [0, 262], "range": [40, 564], "nice": false, "zero": false}, "axis": null}, "x2": {"datum": 263.5},
                         "y": {"datum": 0, "type": "quantitative", "scale": {"domain": [0, 14.89], "range": [1358, 921.7], "nice": false, "zero": false}}}},
           {"mark": {"type": "text", "align": "left", "baseline": "alphabetic", "font": "Liberation Serif", "fontSize": 32, "color": "black"},
            "encoding": {"x": {"datum": 8.65, "type": "quantitative", "scale": {"domain": [0, 262], "range": [40, 564], "nice": false, "zero": false}, "axis": null},
                         "y": {"datum": 12.62, "type": "quantitative", "scale": {"domain": [0, 14.89], "range": [1358, 921.7], "nice": false, "zero": false}},
                         "text": {"field": "title"}}}
         ]},
        {"data": {"name": "markers"}, "mark": {"type": "tick", "orient": "vertical", "color": "#333333", "size": 8, "thickness": 1},
         "encoding": {"x": {"field": "cM", "type": "quantitative", "scale": {"domain": [0, 262], "range": [40, 564], "nice": false, "zero": false}, "axis": null},
                      "y": {"datum": 0, "type": "quantitative", "scale": {"domain": [0, 14.89], "range": [1358, 921.7], "nice": false, "zero": false}}}},
        {"data": {"name": "curves"}, "transform": [{"filter": "datum.panel == 'e'"}],
         "mark": {"type": "line", "color": "#ff3333", "strokeWidth": 1.3, "interpolate": "monotone"},
         "encoding": {"x": {"field": "cM", "type": "quantitative", "scale": {"domain": [0, 262], "range": [40, 564], "nice": false, "zero": false}, "axis": null},
                      "y": {"field": "F", "type": "quantitative", "scale": {"domain": [0, 14.89], "range": [1358, 921.7], "nice": false, "zero": false},
                            "axis": {"orient": "left", "offset": -40, "title": null, "values": [0, 2.38, 4.77, 7.16, 9.53, 11.92, 14.3], "format": ".1f", "labelExpr": "datum.value > 14 ? 'F  ' + datum.label : datum.label"}}}},
        {"data": {"name": "qtl"}, "mark": {"type": "rule", "color": "black", "strokeWidth": 2},
         "encoding": {"x": {"field": "cM", "type": "quantitative", "scale": {"domain": [0, 262], "range": [40, 564], "nice": false, "zero": false}, "axis": null},
                      "y": {"datum": 14.89, "type": "quantitative", "scale": {"domain": [0, 14.89], "range": [1358, 921.7], "nice": false, "zero": false}}, "y2": {"datum": -0.65}}}
      ]
    },
    {
      "layer": [
        {"data": {"name": "panels"}, "transform": [{"filter": "datum.panel == 'f'"}],
         "layer": [
           {"mark": {"type": "rule", "color": "#333333", "strokeWidth": 1},
            "encoding": {"x": {"datum": 0, "type": "quantitative", "scale": {"domain": [0, 262], "range": [618.5, 1142.5], "nice": false, "zero": false}, "axis": null}, "x2": {"datum": 263.25},
                         "y": {"field": "thr", "type": "quantitative", "scale": {"domain": [0, 15.41], "range": [1361, 925], "nice": false, "zero": false}}}},
           {"mark": {"type": "text", "align": "left", "baseline": "middle", "dx": 1, "dy": -2, "font": "DejaVu Sans", "fontSize": 8, "color": "#333333"},
            "encoding": {"x": {"datum": 263.25, "type": "quantitative", "scale": {"domain": [0, 262], "range": [618.5, 1142.5], "nice": false, "zero": false}, "axis": null},
                         "y": {"field": "thr", "type": "quantitative", "scale": {"domain": [0, 15.41], "range": [1361, 925], "nice": false, "zero": false}},
                         "text": {"field": "thr", "type": "quantitative", "format": ".1f"}}},
           {"mark": {"type": "rule", "color": "#555555", "strokeWidth": 1.5},
            "encoding": {"x": {"datum": 0, "type": "quantitative", "scale": {"domain": [0, 262], "range": [618.5, 1142.5], "nice": false, "zero": false}, "axis": null}, "x2": {"datum": 263.25},
                         "y": {"datum": 0, "type": "quantitative", "scale": {"domain": [0, 15.41], "range": [1361, 925], "nice": false, "zero": false}}}},
           {"mark": {"type": "text", "align": "left", "baseline": "alphabetic", "font": "Liberation Serif", "fontSize": 32, "color": "black"},
            "encoding": {"x": {"datum": 10.75, "type": "quantitative", "scale": {"domain": [0, 262], "range": [618.5, 1142.5], "nice": false, "zero": false}, "axis": null},
                         "y": {"datum": 13.08, "type": "quantitative", "scale": {"domain": [0, 15.41], "range": [1361, 925], "nice": false, "zero": false}},
                         "text": {"field": "title"}}}
         ]},
        {"data": {"name": "markers"}, "mark": {"type": "tick", "orient": "vertical", "color": "#333333", "size": 8, "thickness": 1},
         "encoding": {"x": {"field": "cM", "type": "quantitative", "scale": {"domain": [0, 262], "range": [618.5, 1142.5], "nice": false, "zero": false}, "axis": null},
                      "y": {"datum": 0, "type": "quantitative", "scale": {"domain": [0, 15.41], "range": [1361, 925], "nice": false, "zero": false}}}},
        {"data": {"name": "curves"}, "transform": [{"filter": "datum.panel == 'f'"}],
         "mark": {"type": "line", "color": "#ff3333", "strokeWidth": 1.3, "interpolate": "monotone"},
         "encoding": {"x": {"field": "cM", "type": "quantitative", "scale": {"domain": [0, 262], "range": [618.5, 1142.5], "nice": false, "zero": false}, "axis": null},
                      "y": {"field": "F", "type": "quantitative", "scale": {"domain": [0, 15.41], "range": [1361, 925], "nice": false, "zero": false},
                            "axis": {"orient": "left", "offset": -618, "title": null, "values": [0, 2.44, 4.89, 7.33, 9.77, 12.22, 14.66], "format": ".1f", "labelExpr": "datum.value > 14.5 ? 'F  ' + datum.label : datum.label"}}}},
        {"data": {"name": "qtl"}, "mark": {"type": "rule", "color": "black", "strokeWidth": 2},
         "encoding": {"x": {"field": "cM", "type": "quantitative", "scale": {"domain": [0, 262], "range": [618.5, 1142.5], "nice": false, "zero": false}, "axis": null},
                      "y": {"datum": 15.41, "type": "quantitative", "scale": {"domain": [0, 15.41], "range": [1361, 925], "nice": false, "zero": false}}, "y2": {"datum": -0.74}}}
      ]
    }
  ]
}
